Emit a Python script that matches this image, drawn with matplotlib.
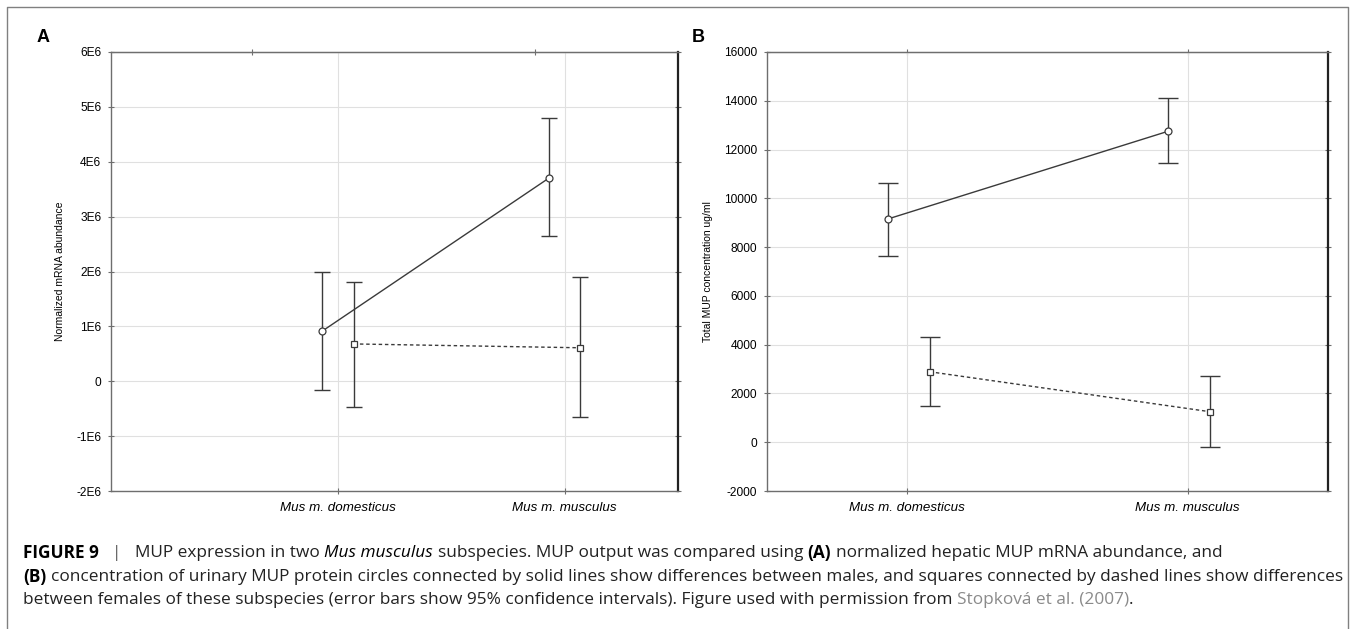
import matplotlib

matplotlib.use("Agg")
import matplotlib.pyplot as plt  # noqa: E402
from matplotlib.lines import Line2D  # noqa: E402

# dados (médias e limites do IC 95%)
categories = ["Mus m. domesticus", "Mus m. musculus"]

a_male_mean = [0.91e6, 3.70e6]
a_male_lo = [-0.16e6, 2.64e6]
a_male_hi = [2.00e6, 4.79e6]
a_female_mean = [0.68e6, 0.61e6]
a_female_lo = [-0.47e6, -0.66e6]
a_female_hi = [1.81e6, 1.90e6]

b_male_mean = [9150, 12750]
b_male_lo = [7620, 11440]
b_male_hi = [10630, 14110]
b_female_mean = [2890, 1250]
b_female_lo = [1490, -200]
b_female_hi = [4310, 2720]

a_yticks = [-2e6, -1e6, 0, 1e6, 2e6, 3e6, 4e6, 5e6, 6e6]
a_yticklabels = ["-2E6", "-1E6", "0", "1E6", "2E6", "3E6", "4E6", "5E6", "6E6"]
b_yticks = [-2000, 0, 2000, 4000, 6000, 8000, 10000, 12000, 14000, 16000]

W, H = 1354, 629
LINE = "#3a3a3a"
SPINE = "#6e6e6e"
GRID = "#e0e0e0"
TICKFONT = ["Liberation Sans Narrow", "Liberation Sans", "DejaVu Sans"]

fig = plt.figure(figsize=(W / 100, H / 100), dpi=100)
fig.patch.set_facecolor("white")


def px_axes(left, top, right, bottom):
    return fig.add_axes([left / W, 1 - bottom / H, (right - left) / W, (bottom - top) / H])


def series(ax, xs, mean, lo, hi, marker, ls, cap):
    yerr = [[m - l for m, l in zip(mean, lo)], [h - m for m, h in zip(mean, hi)]]
    ax.errorbar(xs, mean, yerr=yerr, fmt="none", ecolor=LINE, elinewidth=1.0,
                capsize=cap, capthick=1.0, zorder=3)
    ax.plot(xs, mean, color=LINE, lw=1.0, ls=ls, zorder=4)
    ax.plot(xs, mean, ls="none", marker=marker, ms=5, mfc="white", mec=LINE,
            mew=0.9, zorder=5)


def style(ax, xlim, ylim, yticks, yticklabels, ylabel, top_ticks):
    ax.set_xlim(*xlim)
    ax.set_ylim(*ylim)
    ax.set_xticks([1, 2])
    ax.set_xticklabels(categories, style="italic", family=TICKFONT, fontsize=9.6)
    ax.set_yticks(yticks)
    ax.set_yticklabels(yticklabels, family=TICKFONT, fontsize=8.6)
    ax.grid(True, color=GRID, lw=0.8, zorder=0)
    ax.tick_params(axis="y", direction="inout", length=4, width=0.8, color=SPINE,
                   right=True, pad=5)
    ax.tick_params(axis="x", direction="inout", length=4, width=0.8, color=SPINE,
                   top=False, pad=6)
    top = ax.secondary_xaxis("top")
    top.set_xticks(top_ticks)
    top.set_xticklabels([])
    top.tick_params(direction="inout", length=4, width=0.8, color=SPINE)
    top.spines["top"].set_color(SPINE)
    for side in ("left", "top", "bottom"):
        ax.spines[side].set_color(SPINE)
        ax.spines[side].set_linewidth(1.0)
    ax.spines["right"].set_color("#222222")
    ax.spines["right"].set_linewidth(1.6)
    ax.set_ylabel(ylabel, fontsize=7.5, family=["Liberation Sans", "DejaVu Sans"], labelpad=8)


# painel A
ax_a = px_axes(111, 52, 678, 491)
series(ax_a, [1 - 0.07, 2 - 0.07], a_male_mean, a_male_lo, a_male_hi, "o", "-", 5.5)
series(ax_a, [1 + 0.07, 2 + 0.07], a_female_mean, a_female_lo, a_female_hi, "s", (0, (2.5, 2)), 5.5)
style(ax_a, (0.0, 2.5), (-2e6, 6e6), a_yticks, a_yticklabels, "Normalized mRNA abundance",
      [0.62, 1.87])

# painel B
ax_b = px_axes(767, 52, 1328, 491)
series(ax_b, [1 - 0.07, 2 - 0.07], b_male_mean, b_male_lo, b_male_hi, "o", "-", 7)
series(ax_b, [1 + 0.08, 2 + 0.08], b_female_mean, b_female_lo, b_female_hi, "s", (0, (2.5, 2)), 7)
style(ax_b, (0.5, 2.5), (-2000, 16000), b_yticks, [str(v) for v in b_yticks],
      "Total MUP concentration ug/ml", [1, 2])

fig.text(37 / W, 1 - 37 / H, "A", fontsize=13, fontweight="bold", va="center",
         family=["Liberation Sans", "DejaVu Sans"])
fig.text(692 / W, 1 - 37 / H, "B", fontsize=13, fontweight="bold", va="center",
         family=["Liberation Sans", "DejaVu Sans"])

# moldura cinza
frame_x = [7 / W, 7 / W, 1348 / W, 1348 / W]
frame_y = [0, 1 - 7 / H, 1 - 7 / H, 0]
fig.add_artist(Line2D(frame_x, frame_y, color="#808080", lw=1.0))

# legenda da figura com trechos de estilos diferentes
CAP_FONT = ["Open Sans", "Liberation Sans", "DejaVu Sans"]
renderer = fig.canvas.get_renderer()
cap_size = 10.0


def text_width(s, **kw):
    t = fig.text(0, 0, s, fontsize=cap_size, family=CAP_FONT, **kw)
    w = t.get_window_extent(renderer).width
    t.remove()
    return w


bold = {"fontweight": "bold"}
ital = {"style": "italic"}
plain = {"color": "#222222"}

line1 = [
    ("FIGURE 9", bold),
    ("   |   ", {"color": "#555555"}),
    ("MUP expression in two ", plain),
    ("Mus musculus", ital),
    (" subspecies. MUP output was compared using ", plain),
    ("(A)", bold),
    (" normalized hepatic MUP mRNA abundance, and", plain),
]
line2 = [
    ("(B)", bold),
    (" concentration of urinary MUP protein circles connected by solid lines show "
     "differences between males, and squares connected by dashed lines show differences", plain),
]
line3 = [
    ("between females of these subspecies (error bars show 95% confidence intervals). "
     "Figure used with permission from ", plain),
    ("Stopková et al. (2007)", {"color": "#8a8a8a"}),
    (".", plain),
]


def draw_line(y_px, runs, draw=True):
    space = text_width("x x") - text_width("xx")
    x = 23.0
    for s, kw in runs:
        x += (len(s) - len(s.lstrip(" "))) * space
        body = s.strip(" ")
        t = fig.text(x / W, 1 - y_px / H, body, fontsize=cap_size, family=CAP_FONT,
                     va="center", ha="left", **kw)
        x = t.get_window_extent(renderer).x1
        if not draw:
            t.remove()
        x += (len(s) - len(s.rstrip(" "))) * space
    return x


# ajusta o tamanho para a linha 2 terminar perto da borda direita, como no original
end = draw_line(577, line2, draw=False)
cap_size = cap_size * (1337 - 23) / (end - 23)

draw_line(553, line1)
draw_line(577, line2)
draw_line(600, line3)

fig.savefig("out.png", dpi=100, facecolor="white")
